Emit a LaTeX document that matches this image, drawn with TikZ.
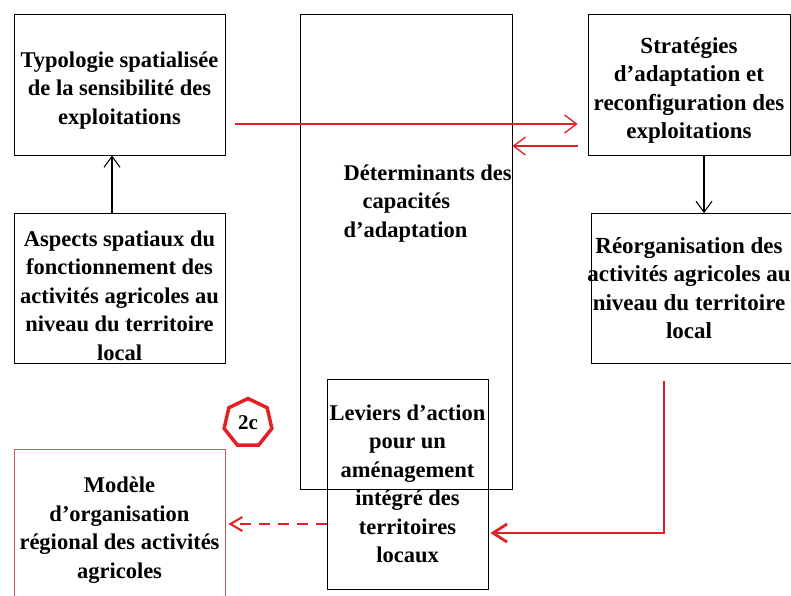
\documentclass[tikz,border=0pt]{standalone}
\usepackage{fontspec}
\setmainfont{Liberation Serif}
\usepackage{tikz}
\usetikzlibrary{arrows.meta, shapes.geometric}
\definecolor{mred}{RGB}{226,32,38}
\definecolor{boxred}{RGB}{200,90,90}

\begin{document}
\begin{tikzpicture}[x=1pt, y=-1pt, >={Straight Barb[length=11pt, width=16pt]}, line width=1.1pt,
	bloc/.style={draw, line width=0.8pt, inner sep=0pt},
	txt/.style={inner sep=0pt, align=center, font=\bfseries\fontsize{22.5}{28.5}\selectfont},
	redarrow/.style={->, draw=mred, line width=1.3pt, >={Straight Barb[length=12pt, width=18pt]}}]
		\clip (0,0) rectangle (791,595);
		
		\node[bloc, minimum width=211pt, minimum height=141pt] (1) at (119.5,84.5) {};
		\node[txt] (1t) at (119.5,90.5) {Typologie spatialisée\\de la sensibilité des\\exploitations};
		\node[bloc, minimum width=211pt, minimum height=150pt] (2) at (119.5,288) {};
		\node[txt] (2t) at (119.5,295.5) {Aspects spatiaux du\\fonctionnement des\\activités agricoles au\\niveau du territoire\\local};
		
		\node[bloc, minimum width=212pt, minimum height=475pt] (3) at (406,251.5) {};
		\node[txt, align=left, anchor=north west] (3t) at (343,164) {Déterminants des\\\hspace*{19pt}capacités\\d’adaptation};
		
		\node[bloc, minimum width=202pt, minimum height=141pt] (4) at (689,84.5) {};
		\node[txt, font=\bfseries\fontsize{23}{28.3}\selectfont] (4t) at (689,90.5) {Stratégies\\d’adaptation et\\reconfiguration des\\exploitations};
		\node[bloc, minimum width=211pt, minimum height=150pt] (5) at (696.5,288.5) {};
		\node[txt, font=\bfseries\fontsize{23}{28.3}\selectfont] (5t) at (689,288) {Réorganisation des\\activités agricoles au\\niveau du territoire\\local};
		
		\node[bloc, minimum width=161pt, minimum height=210pt] (6) at (407.5,484) {};
		\node[txt] (6t) at (407.5,484) {Leviers d’action\\pour un\\aménagement\\intégré des\\territoires\\locaux};
		\node[bloc, draw=boxred, minimum width=211pt, minimum height=157pt] (7) at (119.5,527.5) {};
		\node[txt] (7t) at (119.5,530) {Modèle\\d’organisation\\régional des activités\\agricoles};
		
		\node[draw=mred, line width=3.5pt, regular polygon, regular polygon sides=7, minimum size=49pt, inner sep=0pt, font=\bfseries\fontsize{21}{21}\selectfont] (c) at (248,423) {2c};
		
		\draw[->] ([xshift=-7.5pt]2.north) -- ([xshift=-7.5pt]1.south);
		\draw[->] ([xshift=15pt]4.south) -- ([xshift=15pt]4.south |- 5.north);
		
		\draw[redarrow, shorten <=10pt, shorten >=10pt] (1.east |- 0,124) -- (4.west |- 0,124);
		\draw[redarrow, shorten <=10pt] (4.west |- 0,146) -- (3.east |- 0,146);
		\draw[redarrow, line width=2.8pt, shorten <=17pt, shorten >=2pt, >={Straight Barb[length=14pt, width=18pt]}] (5.south -| 664,0) -- (664,533) -- (6.east |- 0,533);
		\draw[redarrow, line width=2pt, dash pattern=on 11pt off 8pt, shorten >=3pt, >={Straight Barb[length=12pt, width=14pt]}] (6.west |- 0,524) -- (7.east |- 0,524);
		
	\end{tikzpicture}
\end{document}
